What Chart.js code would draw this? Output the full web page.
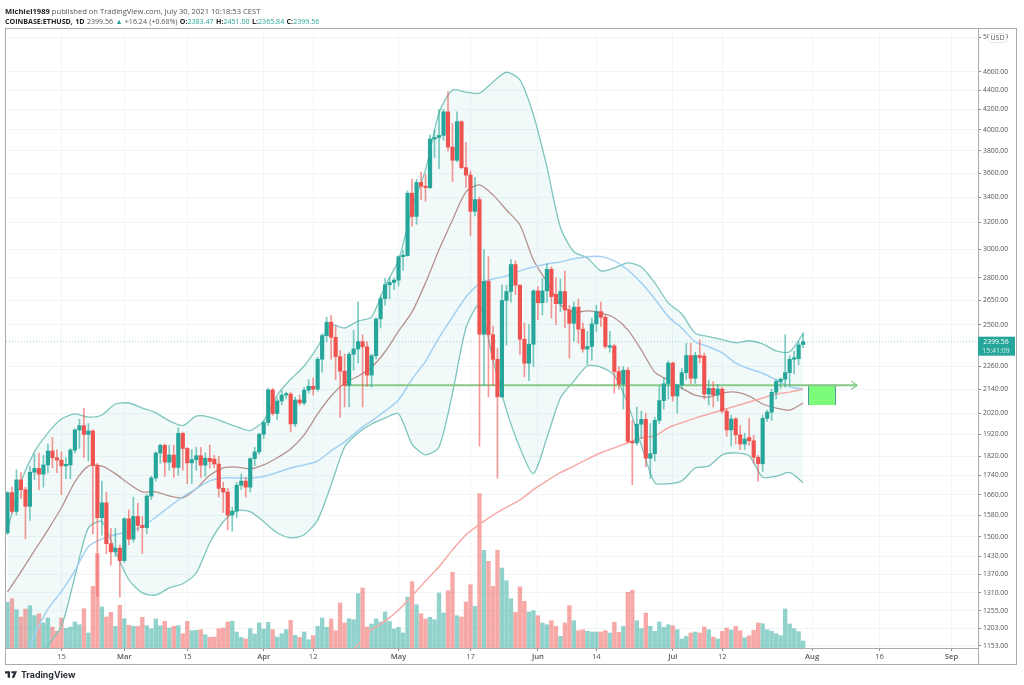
<!DOCTYPE html>
<html>
<head>
<meta charset="utf-8">
<title>ETHUSD</title>
<script src="https://cdn.jsdelivr.net/npm/chart.js@4"></script>
<style>
  html, body { margin: 0; padding: 0; background: #fff; }
  #page { position: relative; width: 1024px; height: 685px; overflow: hidden; font-family: "Open Sans", sans-serif; filter: blur(0.4px); }
  #wrap { position: absolute; left: 0; top: 0; width: 1024px; height: 685px; }
  .head { position: absolute; left: 5px; font-size: 7.6px; color: #555; white-space: nowrap; }
  .head b { color: #222; font-weight: 700; }
  .head i { font-style: normal; color: #26a69a; }
  #frame { position: absolute; left: 5px; top: 28px; width: 1012px; height: 637px; box-sizing: border-box; border: 1.5px solid #a9abae; pointer-events: none; }
  #axisline { position: absolute; left: 978px; top: 648px; width: 1px; height: 17px; background: #a9abae; }
  #usd { position: absolute; left: 988px; top: 33px; width: 19px; height: 10px; box-sizing: border-box; border: 1px solid #e3e5e8; border-radius: 3px; background: #fff; font-size: 7px; line-height: 8px; color: #555; text-align: center; }
  #logo { position: absolute; left: 5px; top: 669px; display: flex; align-items: center; color: #2a2e39; font-family: "Inter", sans-serif; font-size: 8.8px; font-weight: 700; }
  #logo svg { margin-right: 4px; }
</style>
</head>
<body>
<div id="page">
  <div id="wrap"><canvas id="chart"></canvas></div>
  <div class="head" style="top:6px"><b>Michiel1989</b> published on TradingView.com, July 30, 2021 10:18:53 CEST</div>
  <div class="head" style="top:16px;font-size:7.1px;word-spacing:.5px"><b>COINBASE:ETHUSD, 1D</b> 2399.56 <i>▲</i> +16.24 (+0.68%) <b>O:</b><i>2383.47</i> <b>H:</b><i>2451.00</i> <b>L:</b><i>2365.84</i> <b>C:</b><i>2399.56</i></div>
  <div id="frame"></div>
  <div id="axisline"></div>
  <div id="usd">USD</div>
  <div id="logo">
    <svg width="12" height="7" viewBox="0 0 36 20"><path fill="#2a2e39" d="M0 0h15v20H8V7H0zM19 0h17l-8 20h-8l6-14h-7z"/></svg>
    TradingView
  </div>
</div>
<script>
// daily candles, Feb 3 - Jul 30 2021
const opens = [1514,1668,1594,1720,1680,1614,1752,1768,1744,1783,1844,1814,1804,1779,1783,1848,1940,1960,1919,1935,
  1781,1570,1627,1475,1446,1459,1416,1566,1491,1575,1541,1533,1654,1728,1835,1869,1795,1826,1772,1924,
  1855,1792,1806,1823,1782,1812,1808,1787,1685,1670,1580,1595,1698,1715,1690,1810,1840,1920,1975,2136,
  2018,2080,2110,2115,1968,2085,2070,2135,2155,2140,2300,2435,2515,2425,2315,2235,2160,2328,2358,2400,
  2370,2214,2320,2535,2662,2752,2768,2783,2945,2952,3432,3245,3522,3490,3478,3910,3925,3945,4175,3835,
  3715,4078,3650,3585,3285,3380,2443,2775,2440,2300,2101,2650,2708,2890,2750,2414,2278,2385,2712,2636,
  2712,2857,2690,2630,2708,2590,2508,2608,2473,2357,2372,2505,2580,2545,2368,2375,2233,2166,2240,1887,
  1880,1967,1990,1812,1832,1985,2082,2168,2279,2105,2162,2227,2321,2197,2321,2318,2115,2144,2110,2141,
  2030,1940,1992,1917,1875,1905,1890,1816,1788,1995,2025,2124,2180,2192,2227,2300,2304,2383.47];
const highs = [1672,1690,1762,1750,1690,1777,1830,1835,1825,1875,1905,1850,1840,1815,1855,1945,1990,2045,1970,1940,
  1790,1715,1670,1530,1530,1470,1570,1600,1650,1625,1575,1660,1735,1840,1875,1875,1870,1870,1950,1930,
  1860,1850,1860,1860,1835,1870,1825,1820,1710,1685,1610,1710,1745,1730,1815,1860,1925,1985,2145,2145,
  2095,2135,2125,2125,2100,2110,2150,2190,2200,2310,2445,2545,2555,2490,2350,2330,2340,2465,2640,2440,
  2400,2330,2540,2680,2795,2800,2795,2950,2990,3450,3550,3550,3610,3590,3950,4000,4200,4200,4385,4060,
  4175,4085,3880,3620,3565,3400,2995,2945,2490,2360,2750,2750,2925,2915,2750,2510,2500,2720,2740,2795,
  2895,2875,2800,2790,2845,2620,2640,2660,2510,2460,2540,2620,2640,2560,2460,2385,2260,2260,2255,1985,
  2050,2030,2020,1970,2000,2155,2200,2290,2285,2165,2250,2390,2390,2340,2410,2335,2188,2180,2165,2150,
  2040,2010,2000,1960,1925,1995,1915,1825,2010,2035,2140,2190,2200,2440,2320,2345,2400,2451];
const lows = [1508,1585,1580,1645,1492,1560,1720,1680,1690,1750,1770,1750,1660,1725,1725,1835,1855,1815,1800,1510,
  1300,1505,1440,1400,1430,1297,1410,1470,1480,1520,1440,1510,1640,1715,1790,1735,1760,1730,1740,1760,
  1705,1705,1760,1730,1735,1770,1770,1650,1590,1525,1520,1570,1680,1650,1670,1780,1830,1900,1960,2010,
  1990,2060,2090,1930,1955,2060,2060,2120,2110,2130,2230,2400,2300,2190,2000,2050,2050,2240,2280,2050,
  2155,2150,2300,2480,2620,2660,2720,2745,2850,2950,3170,3185,3380,3365,3470,3740,3640,3900,3800,3530,
  3700,3640,3480,3100,3250,1865,2160,2100,2160,1727,2095,2380,2640,2690,2325,2205,2185,2260,2530,2560,
  2640,2540,2500,2580,2480,2306,2402,2390,2340,2270,2295,2460,2490,2360,2340,2120,2140,2040,1880,1700,
  1870,1900,1775,1725,1800,1970,2040,2090,2080,2020,2140,2190,2170,2170,2280,2090,2060,2050,2080,2020,
  1910,1865,1875,1850,1850,1870,1790,1715,1755,1980,1985,2090,2145,2150,2160,2220,2270,2365.84];
const closes = [1668,1594,1720,1680,1614,1752,1768,1744,1783,1844,1814,1804,1779,1783,1848,1940,1960,1919,1935,1781,
  1570,1627,1475,1446,1459,1416,1566,1491,1575,1541,1533,1654,1728,1835,1869,1795,1826,1772,1924,1855,
  1792,1806,1823,1782,1812,1798,1787,1685,1670,1580,1595,1698,1715,1690,1810,1840,1920,1975,2136,2018,
  2080,2110,2115,1968,2085,2070,2135,2155,2140,2300,2435,2515,2425,2315,2235,2160,2328,2358,2400,2370,
  2214,2320,2535,2662,2752,2768,2783,2945,2952,3432,3245,3522,3490,3478,3910,3925,3945,4175,3835,3715,
  4078,3650,3585,3285,3380,2443,2775,2440,2300,2101,2650,2708,2890,2750,2414,2278,2385,2712,2636,2712,
  2857,2675,2630,2708,2590,2508,2608,2473,2357,2372,2505,2580,2545,2372,2375,2233,2166,2240,1887,1880,
  1967,1990,1812,1832,1985,2082,2168,2279,2105,2162,2227,2321,2197,2321,2310,2115,2144,2110,2141,2030,
  1940,1992,1917,1875,1898,1890,1816,1788,1995,2025,2124,2180,2192,2227,2300,2304,2381,2399.56];
const volumes = [457,493,383,310,390,423,323,343,250,300,210,167,300,197,210,260,233,393,150,617,
  943,410,310,357,217,427,293,227,217,217,307,223,193,290,223,267,200,217,223,143,
  267,173,177,183,133,107,110,193,200,260,267,160,107,90,193,140,250,190,257,183,
  110,143,183,277,127,107,160,83,123,217,300,207,290,173,450,250,293,283,543,600,
  210,240,290,260,360,267,190,207,150,510,663,433,343,290,307,283,550,350,573,757,
  323,310,460,633,417,1543,977,867,617,977,800,673,493,357,613,467,360,373,323,250,
  233,273,217,117,250,423,273,173,183,167,160,160,160,173,150,257,157,217,557,577,
  273,193,350,217,167,260,207,233,223,183,90,117,150,160,150,210,183,110,90,167,
  200,180,217,173,103,123,177,250,243,183,167,143,123,390,240,193,163,70];

// indicators read every third session
const bandDays = [0,3,6,9,12,15,18,21,24,27,30,33,36,39,42,45,48,51,54,57,60,63,66,69,72,75,78,81,84,87,
  90,93,96,99,102,105,108,111,114,117,120,123,126,129,132,135,138,141,144,147,150,153,156,159,162,165,168,171,174,177];
const upperBand = [1525,1712,1840,1926,1992,2016,2001,2011,2065,2070,2045,2021,1983,1960,2006,2001,1978,1955,1937,1983,
  2110,2192,2263,2370,2499,2480,2522,2547,2745,2922,3312,3630,4165,4400,4378,4367,4487,4593,4509,4144,
  3656,3161,2980,2936,2846,2866,2901,2873,2765,2635,2565,2449,2429,2411,2393,2405,2387,2347,2342,2447];
const lowerBand = [980,990,1040,1151,1208,1362,1532,1555,1447,1352,1310,1303,1326,1339,1375,1478,1555,1597,1593,1555,
  1514,1496,1507,1562,1699,1862,1926,1968,1996,2017,1875,1827,1862,2120,2480,2623,2297,2035,1858,1746,
  1903,2095,2182,2263,2257,2213,2065,1871,1708,1704,1716,1770,1778,1827,1836,1822,1731,1735,1751,1708];
const basisLine = [1313,1378,1450,1525,1608,1712,1778,1778,1746,1704,1671,1671,1655,1647,1684,1739,1770,1774,1766,1783,
  1814,1853,1917,2016,2105,2171,2208,2257,2342,2461,2578,2765,2994,3218,3443,3502,3418,3296,3179,2922,
  2772,2623,2578,2584,2572,2542,2469,2353,2230,2188,2145,2110,2100,2120,2125,2105,2065,2045,2035,2070];
const blueMa = [1000,1080,1182,1260,1314,1382,1465,1492,1507,1519,1537,1572,1612,1651,1684,1716,1728,1728,1728,1734,
  1751,1770,1783,1800,1844,1885,1937,1983,2030,2085,2192,2290,2423,2546,2673,2758,2791,2812,2846,2873,
  2893,2908,2930,2945,2946,2916,2852,2765,2660,2549,2480,2398,2370,2336,2279,2248,2224,2188,2153,2140];
const longMaDays = [75,78,81,84,87,90,93,96,99,102,105,108,111,114,117,120,123,126,129,132,135,138,141,144,147,150,153,156,159,162,165,168,171,174,177];
const longMa = [1120,1156,1198,1224,1257,1300,1348,1395,1453,1507,1545,1580,1610,1639,1680,1716,1750,1778,1808,1836,
  1858,1881,1903,1913,1950,1974,1996,2016,2035,2055,2075,2095,2115,2125,2140];

// hand drawn level, arrow and target box
const levelDays = [75, 189];
const levelPrices = [2160, 2160];
const arrowDays = [187.7, 189, 187.7];
const arrowPrices = [2182, 2160, 2138];
const boxDay = 181.2;
const boxRange = [2060, 2162];

const priceTicks = [5000,4600,4400,4200,4000,3800,3600,3400,3200,3000,2800,2650,2500,2260,2140,2020,1920,1820,1740,1660,1580,1500,1430,1370,1310,1255,1203,1153];
const dateTicks = [12,26,40,57,68,87,103,118,131,148,159,179,194,210];
const dateLabels = ['15','Mar','15','Apr','12','May','17','Jun','14','Jul','12','Aug','16','Sep'];
const lastPrice = 2399.56;
const lastTime = '15:41:09';

const UP = '#26a69a', DOWN = '#ef5350';
const isDown = closes.map((c, i) => c < opens[i]);
const bodyColors = isDown.map(d => d ? DOWN : UP);
const wickColors = isDown.map(d => d ? 'rgba(239,83,80,.6)' : 'rgba(38,166,154,.6)');
const volColors = isDown.map(d => d ? 'rgba(239,83,80,.5)' : 'rgba(38,166,154,.5)');

const pairs = (xs, ys) => xs.map((x, i) => ({ x: x, y: ys[i] }));
const line = (label, xs, ys, color, extra) => Object.assign({
  type: 'line', label: label, data: pairs(xs, ys), borderColor: color, borderWidth: 1.3,
  pointRadius: 0, tension: 0.25, fill: false, yAxisID: 'y', order: 5
}, extra);

const lastPriceTag = {
  id: 'lastPriceTag',
  afterDraw(chart) {
    const { ctx, chartArea, scales } = chart;
    const y = scales.y.getPixelForValue(lastPrice);
    ctx.save();
    ctx.fillStyle = UP;
    ctx.fillRect(chartArea.right, y - 5, 37, 19);
    ctx.fillStyle = '#fff';
    ctx.font = '6.9px "Open Sans"';
    ctx.textAlign = 'center';
    ctx.textBaseline = 'middle';
    ctx.fillText(lastPrice.toFixed(2), chartArea.right + 18, y);
    ctx.fillStyle = 'rgba(255,255,255,.8)';
    ctx.fillText(lastTime, chartArea.right + 18, y + 9);
    ctx.restore();
  }
};

new Chart(document.getElementById('chart'), {
  type: 'bar',
  plugins: [lastPriceTag],
  data: {
    datasets: [
      { type: 'bar', label: 'Body', data: opens.map((o, i) => ({ x: i, y: [o, closes[i]] })), backgroundColor: bodyColors,
        barThickness: 3.5, minBarLength: 1.5, grouped: false, yAxisID: 'y', order: 1 },
      { type: 'bar', label: 'Wick', data: lows.map((l, i) => ({ x: i, y: [l, highs[i]] })), backgroundColor: wickColors,
        barThickness: 1, grouped: false, yAxisID: 'y', order: 2 },
      line('Level', levelDays, levelPrices, '#86c986', { borderWidth: 2, tension: 0, order: 3 }),
      line('Arrow', arrowDays, arrowPrices, '#86c986', { borderWidth: 1.2, tension: 0, order: 3 }),
      { type: 'bar', label: 'Target', data: [{ x: boxDay, y: boxRange }], backgroundColor: '#7dfb7a', borderColor: '#4f8fa8', borderWidth: 1,
        barThickness: 27.5, grouped: false, yAxisID: 'y', order: 3 },
      line('Last', [-1, 216], [lastPrice, lastPrice], 'rgba(38,166,154,.45)', { borderWidth: 1, borderDash: [1, 2], tension: 0, order: 6 }),
      line('Long MA', longMaDays, longMa, '#f6aaa5', { borderWidth: 1.5 }),
      line('Medium MA', bandDays, blueMa, '#a3d0f3', { borderWidth: 1.5 }),
      line('Basis', bandDays, basisLine, '#b5918c'),
      line('Upper', bandDays, upperBand, '#7fc6bf', { fill: '+1', backgroundColor: 'rgba(38,166,154,.06)', order: 7 }),
      line('Lower', bandDays, lowerBand, '#7fc6bf', { order: 7 }),
      { type: 'bar', label: 'Volume', data: volumes.map((v, i) => ({ x: i, y: v })), backgroundColor: volColors,
        barThickness: 3.7, grouped: false, yAxisID: 'vol', order: 8 }
    ]
  },
  options: {
    responsive: true,
    maintainAspectRatio: false,
    animation: false,
    events: [],
    layout: { padding: { left: 5, right: 7, top: 28, bottom: 20 } },
    plugins: { legend: { display: false }, tooltip: { enabled: false } },
    scales: {
      x: {
        type: 'linear', min: -0.55, max: 215.9, offset: false,
        grid: { color: '#eef6f7', tickColor: '#888', tickLength: 3, offset: false },
        border: { color: '#a9abae' },
        afterBuildTicks: s => { s.ticks = dateTicks.map(v => ({ value: v })); },
        afterFit: s => { s.height = 17; },
        ticks: {
          autoSkip: false, maxRotation: 0, padding: 1, color: '#555',
          font: c => ({ family: 'Open Sans', size: 7.6, weight: isNaN(dateLabels[c.index]) ? '600' : '400' }),
          callback: (v, i) => dateLabels[i]
        }
      },
      y: {
        type: 'logarithmic', position: 'right', min: 1147, max: 5110,
        grid: { color: '#eef6f7', tickColor: '#888', tickLength: 3 },
        border: { color: '#a9abae' },
        afterBuildTicks: s => { s.ticks = priceTicks.map(v => ({ value: v })); },
        afterFit: s => { s.width = 39; },
        ticks: {
          autoSkip: false, padding: 2, color: '#555',
          font: { family: 'Open Sans', size: 6.8 },
          callback: v => Number(v).toFixed(2)
        }
      },
      vol: { type: 'linear', display: false, min: 0, max: 6200 }
    }
  }
});
</script>
</body>
</html>
